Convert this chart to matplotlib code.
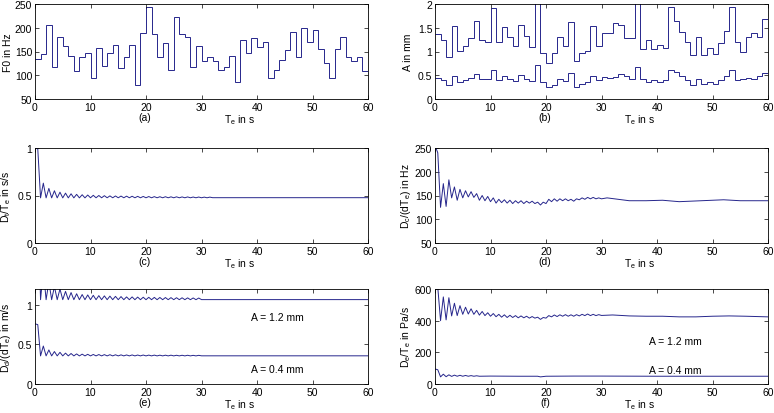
import numpy as np
import matplotlib
matplotlib.use('Agg')
import matplotlib.pyplot as plt
from matplotlib.ticker import FuncFormatter

plt.rcParams['font.family'] = ['Liberation Sans', 'DejaVu Sans']
plt.rcParams['font.size'] = 7.5
plt.rcParams['mathtext.fontset'] = 'custom'
plt.rcParams['mathtext.rm'] = 'Liberation Sans'
plt.rcParams['mathtext.it'] = 'Liberation Sans:italic'
plt.rcParams['mathtext.default'] = 'regular'

# (a) F0 per 1 s segment, Hz
f0 = [135, 145, 205, 117, 180, 162, 141, 110, 139, 147,
      95, 157, 119, 147, 164, 115, 139, 164, 80, 190,
      243, 187, 139, 167, 111, 222, 187, 180, 117, 162,
      129, 139, 129, 111, 117, 141, 85, 174, 147, 178,
      160, 169, 95, 111, 132, 154, 192, 139, 199, 169,
      196, 155, 125, 95, 155, 181, 139, 131, 139, 110]

# (b) amplitude per segment, mm
amp_hi = [1.37, 1.24, 0.88, 1.53, 1.01, 1.12, 1.28, 1.64, 1.24, 1.21,
          1.92, 1.19, 1.52, 1.31, 1.12, 1.56, 1.32, 1.10, 2.30, 0.97,
          0.75, 0.97, 1.30, 1.12, 1.63, 0.81, 0.97, 1.01, 1.54, 1.12,
          1.40, 1.38, 1.61, 1.56, 1.28, 1.28, 2.30, 1.05, 1.25, 1.05,
          1.14, 1.07, 1.93, 1.65, 1.42, 1.19, 0.93, 1.30, 0.93, 1.07,
          0.95, 1.17, 1.44, 1.93, 1.19, 1.00, 1.30, 1.40, 1.30, 1.68]
amp_lo = [0.44, 0.41, 0.29, 0.49, 0.35, 0.39, 0.44, 0.53, 0.42, 0.43,
          0.62, 0.41, 0.49, 0.42, 0.37, 0.51, 0.42, 0.37, 0.72, 0.35,
          0.25, 0.29, 0.42, 0.37, 0.55, 0.25, 0.31, 0.35, 0.49, 0.39,
          0.46, 0.44, 0.47, 0.53, 0.49, 0.42, 0.68, 0.42, 0.36, 0.39,
          0.35, 0.39, 0.62, 0.56, 0.48, 0.39, 0.29, 0.42, 0.32, 0.36,
          0.32, 0.39, 0.49, 0.62, 0.39, 0.42, 0.44, 0.42, 0.49, 0.55]

# (c) Dt/Te, values every 0.5 s, then tail points
dt_osc = [1.0, 0.99, 0.475, 0.63, 0.475, 0.575, 0.475, 0.55, 0.475, 0.535,
          0.475, 0.525, 0.475, 0.518, 0.475, 0.512, 0.475, 0.508, 0.475, 0.505,
          0.476, 0.502, 0.476, 0.5, 0.476, 0.498, 0.476, 0.496, 0.476, 0.495,
          0.476, 0.494, 0.476, 0.493, 0.476, 0.492, 0.476, 0.491, 0.476, 0.49,
          0.476, 0.489, 0.476, 0.488, 0.476, 0.487, 0.476, 0.487, 0.476, 0.486,
          0.476, 0.486, 0.476, 0.485, 0.476, 0.485, 0.476, 0.484, 0.476, 0.484,
          0.476, 0.483, 0.476, 0.483, 0.477]
dt_tail_t = [60]
dt_tail = [0.477]

# (d) Dc/(d Te), Hz
dc_osc = [255, 240, 125, 175, 127, 183, 145, 168, 140, 163,
          145, 160, 147, 158, 146, 154, 140, 150, 139, 148,
          137, 145, 134, 142, 135, 141, 134, 140, 133, 139,
          134, 139, 133, 138, 134, 138, 133, 136, 130, 136,
          133, 142, 137, 143, 138, 143, 139, 143, 139, 142,
          138, 143, 141, 145, 142, 146, 143, 146, 143, 145, 143]
dc_tail_t = [31, 33, 35, 38, 41, 44, 46, 50, 52, 55, 58, 60]
dc_tail = [145, 142, 139, 139, 140, 137, 138, 140, 141, 139, 139, 139]

# (e) Dd/(d Te), m/s
dd_hi_osc = [2.28, 2.25, 1.065, 1.44, 1.065, 1.29, 1.065, 1.23, 1.065, 1.2,
             1.065, 1.17, 1.065, 1.155, 1.065, 1.14, 1.065, 1.13, 1.065, 1.125,
             1.065, 1.12, 1.065, 1.116, 1.065, 1.113, 1.065, 1.11, 1.065, 1.107,
             1.065, 1.104, 1.065, 1.1, 1.065, 1.1, 1.065, 1.098, 1.065, 1.096,
             1.065, 1.095, 1.065, 1.094, 1.065, 1.093, 1.065, 1.092, 1.065, 1.091,
             1.065, 1.09, 1.065, 1.089, 1.065, 1.088, 1.065, 1.087, 1.065, 1.086, 1.066]
dd_lo_osc = [0.76, 0.75, 0.355, 0.48, 0.355, 0.43, 0.355, 0.41, 0.355, 0.40,
             0.355, 0.39, 0.355, 0.385, 0.355, 0.38, 0.355, 0.377, 0.355, 0.375,
             0.355, 0.373, 0.355, 0.372, 0.355, 0.371, 0.355, 0.37, 0.355, 0.369,
             0.355, 0.368, 0.355, 0.367, 0.355, 0.367, 0.355, 0.366, 0.355, 0.366,
             0.355, 0.365, 0.355, 0.365, 0.355, 0.364, 0.355, 0.364, 0.355, 0.364,
             0.355, 0.363, 0.355, 0.363, 0.355, 0.363, 0.355, 0.362, 0.355, 0.362, 0.356]
dd_hi_tail_t = [60]
dd_hi_tail = [1.066]
dd_lo_tail_t = [60]
dd_lo_tail = [0.356]

# (f) De/Te, Pa/s
de_hi_osc = [640, 610, 400, 550, 405, 545, 430, 510, 432, 495,
             440, 485, 442, 475, 440, 465, 435, 458, 432, 450,
             428, 445, 425, 440, 422, 437, 420, 434, 420, 432,
             418, 430, 418, 428, 416, 426, 416, 422, 408, 420,
             416, 432, 424, 436, 426, 437, 428, 438, 428, 437,
             428, 438, 430, 440, 432, 442, 432, 440, 432, 438, 433]
de_hi_tail_t = [32, 35, 38, 41, 44, 47, 50, 53, 56, 60]
de_hi_tail = [436, 430, 428, 428, 424, 424, 428, 430, 428, 424]
de_lo_osc = [95, 90, 45, 62, 46, 58, 48, 56, 49, 55,
             49, 54, 49, 53, 49, 52, 49]
de_lo_tail_t = [10, 15, 18.5, 19, 20, 25, 30, 40, 50, 60]
de_lo_tail = [50, 49, 49, 45, 49, 50, 50, 49, 49, 49]

line_col = '#26268c'
lw = 0.7
seg_edges = np.arange(61)


def curve(osc, tail_t, tail):
    t = np.concatenate([np.arange(len(osc)) * 0.5, tail_t])
    return t, np.concatenate([osc, tail])


fig = plt.figure(figsize=(7.74, 4.14), dpi=100)
lefts = [35 / 774, 435 / 774]
width = 333 / 774
bottoms = [1 - 100 / 414, 1 - 244 / 414, 1 - 385 / 414]
height = 95 / 414

ax = [[fig.add_axes([lefts[c], bottoms[r], width, height]) for c in range(2)] for r in range(3)]

# (a)
ax[0][0].stairs(f0, seg_edges, baseline=None, color=line_col, lw=lw)
ax[0][0].set_ylim(50, 250)
ax[0][0].set_yticks([50, 100, 150, 200, 250])
ax[0][0].set_ylabel('F0 in Hz')

# (b)
ax[0][1].stairs(amp_hi, seg_edges, baseline=None, color=line_col, lw=lw)
ax[0][1].stairs(amp_lo, seg_edges, baseline=None, color=line_col, lw=lw)
ax[0][1].set_ylim(0, 2)
ax[0][1].set_yticks([0, 0.5, 1, 1.5, 2])
ax[0][1].set_ylabel('A in mm')

# (c)
t, y = curve(dt_osc, dt_tail_t, dt_tail)
ax[1][0].plot(t, y, color=line_col, lw=lw)
ax[1][0].set_ylim(0, 1)
ax[1][0].set_yticks([0, 0.5, 1])
ax[1][0].set_ylabel('D$_t$/T$_e$ in s/s')

# (d)
t, y = curve(dc_osc, dc_tail_t, dc_tail)
ax[1][1].plot(t, y, color=line_col, lw=lw)
ax[1][1].set_ylim(50, 250)
ax[1][1].set_yticks([50, 100, 150, 200, 250])
ax[1][1].set_ylabel('D$_c$/(dT$_e$) in Hz')

# (e)
t, y = curve(dd_hi_osc, dd_hi_tail_t, dd_hi_tail)
ax[2][0].plot(t, y, color=line_col, lw=lw)
t, y = curve(dd_lo_osc, dd_lo_tail_t, dd_lo_tail)
ax[2][0].plot(t, y, color=line_col, lw=lw)
ax[2][0].set_ylim(0, 1.2)
ax[2][0].set_yticks([0, 0.5, 1])
ax[2][0].set_ylabel('D$_d$/(dT$_e$) in m/s')
ax[2][0].text(39, 0.85, 'A = 1.2 mm', va='center')
ax[2][0].text(39, 0.19, 'A = 0.4 mm', va='center')

# (f)
t, y = curve(de_hi_osc, de_hi_tail_t, de_hi_tail)
ax[2][1].plot(t, y, color=line_col, lw=lw)
t, y = curve(de_lo_osc, de_lo_tail_t, de_lo_tail)
ax[2][1].plot(t, y, color=line_col, lw=lw)
ax[2][1].set_ylim(0, 600)
ax[2][1].set_yticks([0, 200, 400, 600])
ax[2][1].set_ylabel('D$_e$/T$_e$ in Pa/s')
ax[2][1].text(38.6, 273, 'A = 1.2 mm', va='center')
ax[2][1].text(38.6, 90, 'A = 0.4 mm', va='center')

# общие настройки осей, подписи (a)...(f)
letters = ['(a)', '(b)', '(c)', '(d)', '(e)', '(f)']
fmt = FuncFormatter(lambda v, p: '%g' % v)
for r in range(3):
    for c in range(2):
        a = ax[r][c]
        a.set_xlim(0, 60)
        a.set_xticks(range(0, 61, 10))
        a.yaxis.set_major_formatter(fmt)
        a.tick_params(direction='in', top=True, right=True, length=3, width=0.5, pad=2)
        for s in a.spines.values():
            s.set_linewidth(0.6)
        a.yaxis.set_label_coords(-0.067, 0.5)
        a.text(0.33, -0.135, letters[2 * r + c], transform=a.transAxes, ha='center', va='top')
        a.text(0.615, -0.135, 'T$_e$ in s', transform=a.transAxes, ha='center', va='top')

fig.savefig('out.png', dpi=100)
